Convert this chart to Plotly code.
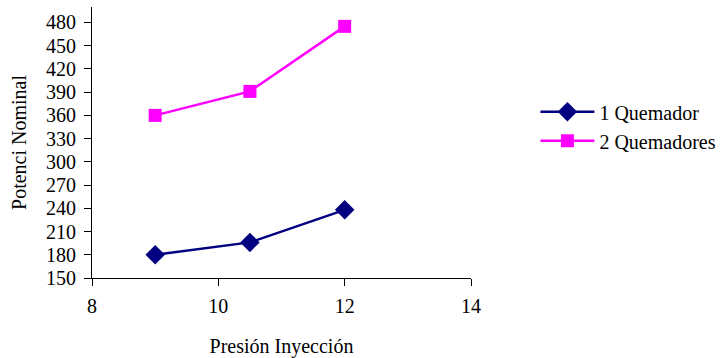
import plotly.graph_objects as go

presion = [9, 10.5, 12]
quemador1 = [180, 196, 238]
quemador2 = [360, 391, 475]
series_names = ["1 Quemador", "2 Quemadores"]
x_ticks = [8, 10, 12, 14]
y_ticks = list(range(150, 481, 30))

FONT = "Liberation Serif, Times New Roman, serif"

fig = go.Figure()
fig.add_trace(go.Scatter(
    x=presion, y=quemador1, name=series_names[0], mode="lines+markers",
    line=dict(color="#000080", width=2.5),
    marker=dict(symbol="diamond", size=15, color="#000080"),
))
fig.add_trace(go.Scatter(
    x=presion, y=quemador2, name=series_names[1], mode="lines+markers",
    line=dict(color="#FF00FF", width=2.5),
    marker=dict(symbol="square", size=13, color="#FF00FF"),
))

fig.update_layout(
    width=720, height=358,
    margin=dict(l=92, r=249, t=7, b=80, autoexpand=False),
    paper_bgcolor="white", plot_bgcolor="white",
    font=dict(family=FONT, size=20, color="black"),
    showlegend=True,
    legend=dict(x=1.17, y=0.56, xanchor="left", yanchor="middle",
                font=dict(family=FONT, size=20, color="black"),
                itemwidth=54, tracegroupgap=2, bgcolor="rgba(0,0,0,0)"),
    xaxis=dict(range=[8, 14], tickvals=x_ticks, showgrid=False, zeroline=False,
               showline=True, linecolor="black", linewidth=1,
               ticks="outside", ticklen=7, tickcolor="black",
               ticklabelstandoff=3, automargin=False,
               title=dict(text="Presión Inyección", standoff=22,
                          font=dict(family=FONT, size=20))),
    yaxis=dict(range=[150, 500], tickvals=y_ticks, showgrid=False, zeroline=False,
               showline=True, linecolor="black", linewidth=1,
               ticks="outside", ticklen=7, tickcolor="black",
               ticklabelstandoff=4, automargin=False,
               title=dict(text="Potenci Nominal", standoff=14,
                          font=dict(family=FONT, size=20))),
)

fig.write_html("out.html")
